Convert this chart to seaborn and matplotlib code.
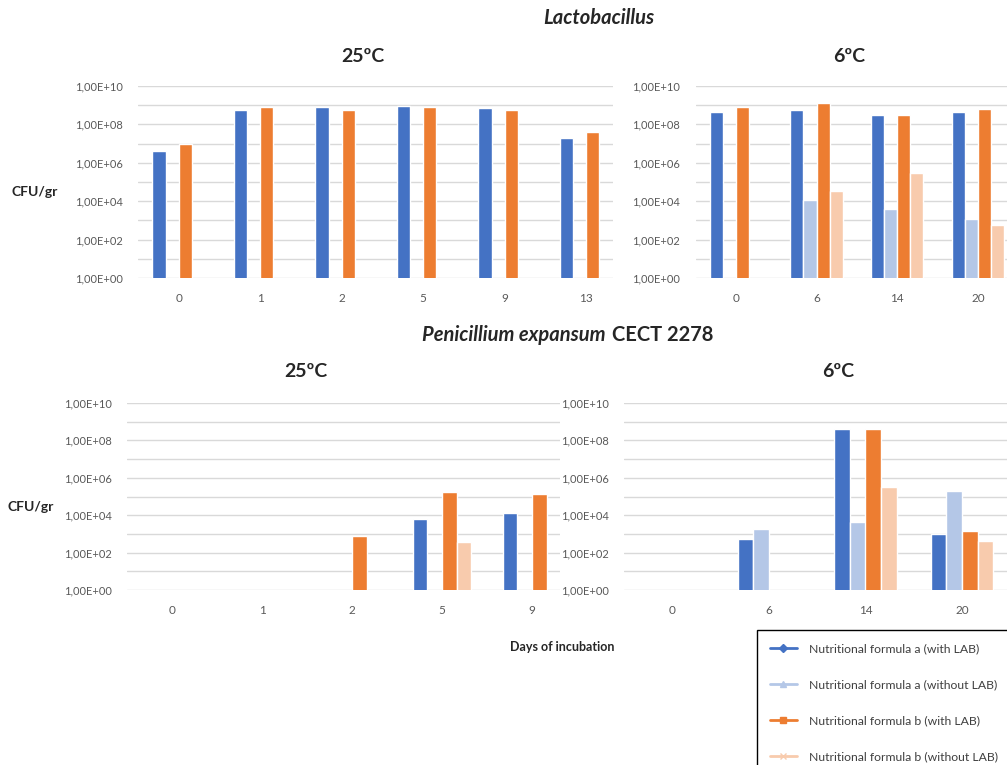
import numpy as np
import pandas as pd
import matplotlib.pyplot as plt
import seaborn as sns
from matplotlib.lines import Line2D
from matplotlib.ticker import FixedLocator, FuncFormatter

nan = np.nan

# series names and colours
series = ["Nutritional formula a (with LAB)",
          "Nutritional formula a (without LAB)",
          "Nutritional formula b (with LAB)",
          "Nutritional formula b (without LAB)"]
colors = ["#4472C4", "#B4C7E7", "#ED7D31", "#F8CBAD"]
markers = ["D", "^", "s", "x"]

# Lactobacillus, 25ºC
lacto_25_days = ["0", "1", "2", "5", "9", "13"]
lacto_25_a = [4.3e6, 5.6e8, 8.3e8, 9.6e8, 7.0e8, 2.0e7]
lacto_25_a_no = [nan, nan, nan, nan, nan, nan]
lacto_25_b = [1.0e7, 8.3e8, 5.6e8, 8.3e8, 5.6e8, 4.0e7]
lacto_25_b_no = [nan, nan, nan, nan, nan, nan]

# Lactobacillus, 6ºC
lacto_6_days = ["0", "6", "14", "20"]
lacto_6_a = [4.6e8, 5.3e8, 3.1e8, 4.6e8]
lacto_6_a_no = [nan, 1.2e4, 3.9e3, 1.2e3]
lacto_6_b = [8.3e8, 1.3e9, 3.0e8, 6.3e8]
lacto_6_b_no = [nan, 3.3e4, 2.8e5, 6.0e2]

# Penicillium expansum, 25ºC
pen_25_days = ["0", "1", "2", "5", "9"]
pen_25_a = [nan, nan, nan, 6.0e3, 1.3e4]
pen_25_a_no = [nan, nan, nan, nan, nan]
pen_25_b = [nan, nan, 7.8e2, 1.7e5, 1.3e5]
pen_25_b_no = [nan, nan, nan, 3.5e2, nan]

# Penicillium expansum, 6ºC
pen_6_days = ["0", "6", "14", "20"]
pen_6_a = [nan, 5.4e2, 4.0e8, 9.6e2]
pen_6_a_no = [nan, 1.9e3, 4.2e3, 2.0e5]
pen_6_b = [nan, nan, 4.0e8, 1.5e3]
pen_6_b_no = [nan, nan, 3.2e5, 4.2e2]

sns.set_style("white")
plt.rcParams['font.family'] = ['Lato', 'DejaVu Sans']

W, H = 1007, 765
fig = plt.figure(figsize=(W / 100, H / 100), dpi=100)


def to_long(days, a, a_no, b, b_no):
    frames = []
    for name, vals in zip(series, [a, a_no, b, b_no]):
        frames.append(pd.DataFrame({"day": days, "series": name, "cfu": vals}))
    return pd.concat(frames, ignore_index=True)


def panel(left, right, top, bottom, spacing, days, data):
    ax = fig.add_axes([left / W, 1 - bottom / H, (right - left) / W, (bottom - top) / H])
    df = to_long(days, *data)
    sns.barplot(data=df, x="day", y="cfu", hue="series", order=days,
                hue_order=series, palette=colors, width=0.65, saturation=1,
                errorbar=None, legend=False, ax=ax, zorder=3)
    ax.set_yscale("log")
    ax.set_ylim(1, 1e10)
    ax.set_xlim(-0.5, (right - left) / spacing - 0.5)
    ax.yaxis.set_major_locator(FixedLocator([10.0 ** e for e in range(0, 11, 2)]))
    ax.yaxis.set_minor_locator(FixedLocator([10.0 ** e for e in range(1, 10, 2)]))
    ax.yaxis.set_major_formatter(
        FuncFormatter(lambda v, p: "1,00E+%02d" % int(round(np.log10(v)))))
    ax.yaxis.set_minor_formatter(FuncFormatter(lambda v, p: ""))
    ax.grid(True, axis="y", which="both", color="#D9D9D9", linewidth=1, zorder=0)
    ax.set_axisbelow(True)
    for s in ax.spines.values():
        s.set_visible(False)
    ax.tick_params(axis="y", which="both", length=0, pad=11, labelsize=8,
                   labelcolor="#595959")
    ax.tick_params(axis="x", length=0, pad=11, labelsize=8.5, labelcolor="#595959")
    ax.set_xlabel("")
    ax.set_ylabel("")
    return ax


panel(138, 613, 86, 278, 81.5, lacto_25_days,
      (lacto_25_a, lacto_25_a_no, lacto_25_b, lacto_25_b_no))
panel(695.5, 1007, 86, 278, 80.7, lacto_6_days,
      (lacto_6_a, lacto_6_a_no, lacto_6_b, lacto_6_b_no))
panel(127, 560, 403, 590, 90, pen_25_days,
      (pen_25_a, pen_25_a_no, pen_25_b, pen_25_b_no))
panel(624, 1007, 403, 590, 96.6, pen_6_days,
      (pen_6_a, pen_6_a_no, pen_6_b, pen_6_b_no))


def ftext(x, y, s, **kw):
    fig.text(x / W, 1 - y / H, s, va="center", **kw)


ftext(599, 18, "Lactobacillus", ha="center", fontsize=14.5,
      fontweight="bold", style="italic")
ftext(606, 335, "Penicillium expansum", ha="right", fontsize=14.5,
      fontweight="bold", style="italic")
ftext(612, 335, "CECT 2278", ha="left", fontsize=14.5, fontweight="bold")
ftext(363, 56, "25ºC", ha="center", fontsize=14, fontweight="bold")
ftext(849, 56, "6ºC", ha="center", fontsize=14, fontweight="bold")
ftext(306, 371, "25ºC", ha="center", fontsize=14, fontweight="bold")
ftext(838, 371, "6ºC", ha="center", fontsize=14, fontweight="bold")
ftext(35, 192, "CFU/gr", ha="center", fontsize=10, fontweight="bold", color="#262626")
ftext(31, 507, "CFU/gr", ha="center", fontsize=10, fontweight="bold", color="#262626")
ftext(562, 647, "Days of incubation", ha="center", fontsize=9,
      fontweight="bold", color="#262626")

handles = [Line2D([0], [0], color=c, marker=m, markersize=4, linewidth=2)
           for c, m in zip(colors, markers)]
leg = fig.legend(handles, series, loc="upper left",
                 bbox_to_anchor=(757 / W, 1 - 630 / H), fontsize=8.8,
                 frameon=True, fancybox=False, edgecolor="black", framealpha=1,
                 labelspacing=2.05, handlelength=2.2, handletextpad=1.0,
                 borderpad=1.05, borderaxespad=0)
leg.get_frame().set_linewidth(1)
for t in leg.get_texts():
    t.set_color("#404040")

fig.savefig("out.png", dpi=100)
